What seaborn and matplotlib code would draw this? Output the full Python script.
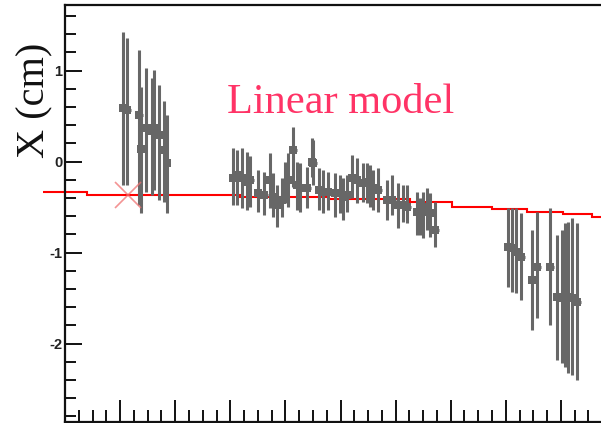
import matplotlib
matplotlib.use("Agg")
from matplotlib import pyplot as plt
from matplotlib.ticker import MultipleLocator
import numpy as np
import pandas as pd
import seaborn as sns

# measured points: position along the run axis, value, lower / upper end of error bar
pos = [1.044, 1.134, 1.343, 1.379, 1.479, 1.570, 1.615, 1.706, 1.788, 1.843,
       3.049, 3.116, 3.218, 3.298, 3.358, 3.508, 3.617, 3.721, 3.780, 3.842,
       3.933, 3.993, 4.053, 4.143, 4.205, 4.265, 4.387, 4.477, 4.506, 4.610,
       4.688, 4.779, 4.900, 4.991, 5.051, 5.113, 5.203, 5.294, 5.414, 5.475,
       5.535, 5.595, 5.686, 5.838, 5.929, 6.049, 6.140, 6.201, 6.383, 6.443,
       6.503, 6.564, 6.624, 6.715,
       8.045, 8.107, 8.185, 8.276, 8.481, 8.572, 8.802, 8.924, 9.015, 9.074,
       9.134, 9.196, 9.287]
x_cm = [0.588, 0.566, 0.511, 0.137, 0.368, 0.335, 0.368, 0.291, 0.126, -0.016,
        -0.185, -0.148, -0.181, -0.222, -0.203, -0.349, -0.368, -0.203, -0.387, -0.478,
        -0.423, -0.240, -0.203, 0.126, -0.258, -0.295, -0.295, -0.002, -0.020, -0.313,
        -0.332, -0.332, -0.349, -0.349, -0.387, -0.368, -0.185, -0.203, -0.240, -0.222,
        -0.258, -0.295, -0.313, -0.423, -0.423, -0.478, -0.478, -0.497, -0.552, -0.607,
        -0.552, -0.497, -0.569, -0.753,
        -0.936, -0.954, -0.991, -1.046, -1.302, -1.156, -1.156, -1.486, -1.503, -1.448,
        -1.486, -1.503, -1.541]
x_low = [-0.258, -0.258, -0.478, -0.566, -0.335, -0.368, -0.313, -0.423, -0.445, -0.566,
         -0.478, -0.478, -0.511, -0.533, -0.500, -0.552, -0.588, -0.514, -0.607, -0.716,
         -0.607, -0.459, -0.497, -0.277, -0.533, -0.552, -0.511, -0.167, -0.258, -0.533,
         -0.569, -0.533, -0.607, -0.569, -0.643, -0.552, -0.404, -0.459, -0.442, -0.459,
         -0.497, -0.533, -0.552, -0.643, -0.588, -0.734, -0.662, -0.679, -0.808, -0.808,
         -0.844, -0.753, -0.826, -0.936,
         -1.376, -1.431, -1.448, -1.522, -1.852, -1.723, -1.797, -2.181, -2.218, -2.255,
         -2.327, -2.346, -2.401]
x_high = [1.423, 1.357, 1.225, 0.819, 1.027, 0.918, 1.005, 0.841, 0.665, 0.511,
          0.148, 0.126, 0.145, 0.108, 0.060, -0.093, -0.112, 0.090, -0.126, -0.258,
          -0.181, -0.002, 0.093, 0.382, -0.002, -0.020, -0.057, 0.255, 0.236, -0.075,
          -0.093, -0.112, -0.130, -0.148, -0.185, -0.148, 0.071, 0.035, -0.020, -0.020,
          -0.038, -0.093, -0.075, -0.203, -0.148, -0.240, -0.258, -0.258, -0.332, -0.404,
          -0.332, -0.295, -0.349, -0.440,
          -0.514, -0.514, -0.514, -0.569, -0.753, -0.552, -0.514, -0.808, -0.753, -0.679,
          -0.662, -0.624, -0.679]

# linear model, drawn as steps
model_edges = [-0.40, 0.40, 3.18, 4.77, 6.26, 7.02, 7.75, 8.38, 9.04, 9.56, 9.80]
model_levels = [-0.335, -0.365, -0.393, -0.415, -0.442, -0.497, -0.525, -0.552, -0.577, -0.607]

# reference cross
cross_pos = [1.15]
cross_val = [-0.368]

df = pd.DataFrame({"pos": pos, "x_cm": x_cm, "low": x_low, "high": x_high})

sns.set_style("ticks")
plt.rcParams["font.family"] = ["Liberation Sans", "DejaVu Sans"]

fig = plt.figure(figsize=(6.01, 4.23), dpi=100)
ax = fig.add_axes([65 / 601, 1.5 / 423, 536 / 601, 416.5 / 423])

gray = "#676767"
ax.stairs(model_levels, model_edges, baseline=None, color="#ff0000", lw=1.5,
          clip_on=False, zorder=1)
ax.errorbar(df["pos"], df["x_cm"],
            yerr=[df["x_cm"] - df["low"], df["high"] - df["x_cm"]],
            xerr=0.07, fmt="none", ecolor=gray, elinewidth=2.2, capsize=0, zorder=2)
sns.scatterplot(data=df, x="pos", y="x_cm", marker="s", s=30, color=gray,
                edgecolor=gray, linewidth=0, ax=ax, zorder=3)
ax.plot(cross_pos, cross_val, marker="x", ms=19, mew=1.2, color="#f07070",
        alpha=0.75, ls="none", zorder=4)

ax.text(2.94, 0.533, "Linear model", ha="left", va="baseline", fontsize=30.5,
        family="Liberation Serif", color="#ff3366")

ax.set_xlim(0, 536 / 55.1)
ax.set_ylim(-2.857, 1.72)
ax.xaxis.set_major_locator(MultipleLocator(1))
ax.xaxis.set_minor_locator(MultipleLocator(0.25))
ax.yaxis.set_major_locator(MultipleLocator(1))
ax.yaxis.set_minor_locator(MultipleLocator(0.2))
ax.set_xticklabels([])
ax.set_yticks([1, 0, -1, -2])
ax.set_yticklabels(["1", "0", "-1", "-2"], fontweight="bold", fontsize=10.5,
                   color="#222222")
ax.tick_params(axis="x", which="major", direction="in", length=15.5, width=1.4,
               color="#111111")
ax.tick_params(axis="x", which="minor", direction="in", length=8.5, width=1.4,
               color="#111111")
ax.tick_params(axis="y", which="major", direction="in", length=12.5, width=1.4,
               color="#111111", pad=2)
ax.tick_params(axis="y", which="minor", direction="in", length=8, width=1.4,
               color="#111111")
for side in ["left", "bottom", "top"]:
    ax.spines[side].set_linewidth(1.6)
    ax.spines[side].set_color("#111111")
ax.spines["right"].set_visible(False)

ax.set_xlabel("")
ax.set_ylabel("X (cm)", family="Liberation Serif", fontsize=29, color="#111111",
              va="center")
ax.yaxis.set_label_coords(-0.056, 0.77)

fig.savefig("out.png", dpi=100)
